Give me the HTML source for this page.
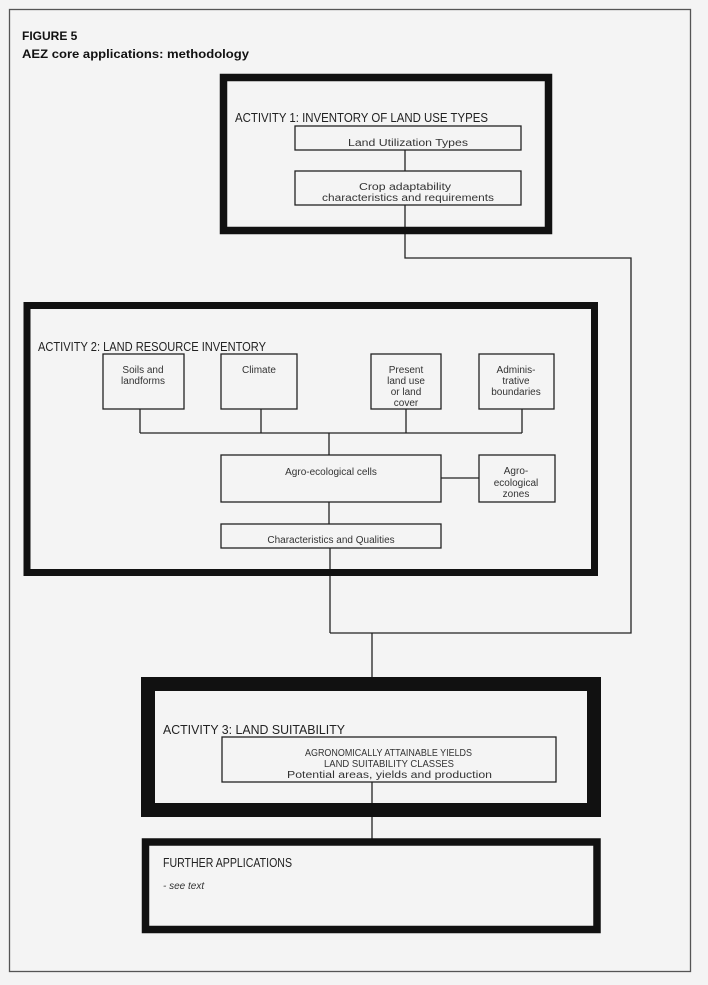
<!DOCTYPE html>
<html><head><meta charset="utf-8"><style>
html,body{margin:0;padding:0;background:#f4f4f4;}
svg{display:block;}
text{font-family:"Liberation Sans Narrow","Liberation Sans",sans-serif;fill:#222;}
.t{font-size:12.5px;}
.s{font-size:10px;fill:#333;}
.h{font-family:"Liberation Sans",sans-serif;font-weight:bold;font-size:12px;fill:#111;}
</style></head><body>
<svg width="708" height="985" viewBox="0 0 708 985" xmlns="http://www.w3.org/2000/svg">
<rect x="0" y="0" width="708" height="985" fill="#f4f4f4"/>
<rect x="9.5" y="9.5" width="681" height="962" fill="none" stroke="#555" stroke-width="1.3"/>
<text class="h" x="22" y="40">FIGURE 5</text>
<text class="h" x="22" y="58" textLength="227" lengthAdjust="spacingAndGlyphs">AEZ core applications: methodology</text>

<g fill="none" stroke="#222" stroke-width="1.3">
<!-- connectors -->
<line x1="405" y1="150" x2="405" y2="171"/>
<polyline points="405,205 405,258 631,258 631,633 330,633"/>
<line x1="330" y1="548" x2="330" y2="633"/>
<line x1="372" y1="633" x2="372" y2="680"/>
<line x1="140" y1="409" x2="140" y2="433"/>
<line x1="261" y1="409" x2="261" y2="433"/>
<line x1="406" y1="409" x2="406" y2="433"/>
<line x1="522" y1="409" x2="522" y2="433"/>
<line x1="140" y1="433" x2="522" y2="433"/>
<line x1="329" y1="433" x2="329" y2="455"/>
<line x1="441" y1="478" x2="479" y2="478"/>
<line x1="329" y1="502" x2="329" y2="524"/>
<line x1="372" y1="782" x2="372" y2="840"/>
</g>

<!-- Activity 1 -->
<rect x="223.5" y="77.5" width="325" height="153" fill="none" stroke="#111" stroke-width="7.5"/>
<text class="t" x="235" y="122" textLength="253" lengthAdjust="spacingAndGlyphs">ACTIVITY 1: INVENTORY OF LAND USE TYPES</text>
<rect x="295" y="126" width="226" height="24" fill="none" stroke="#222" stroke-width="1.3"/>
<text class="s" x="348" y="146" textLength="120" lengthAdjust="spacingAndGlyphs">Land Utilization Types</text>
<rect x="295" y="171" width="226" height="34" fill="none" stroke="#222" stroke-width="1.3"/>
<text class="s" x="359" y="190" textLength="92" lengthAdjust="spacingAndGlyphs">Crop adaptability</text>
<text class="s" x="322" y="201" textLength="172" lengthAdjust="spacingAndGlyphs">characteristics and requirements</text>

<!-- Activity 2 -->
<rect x="27" y="305.5" width="567.5" height="267" fill="none" stroke="#111" stroke-width="7"/>
<text class="t" x="38" y="351" textLength="228" lengthAdjust="spacingAndGlyphs">ACTIVITY 2: LAND RESOURCE INVENTORY</text>
<g fill="none" stroke="#222" stroke-width="1.3">
<rect x="103" y="354" width="81" height="55"/>
<rect x="221" y="354" width="76" height="55"/>
<rect x="371" y="354" width="70" height="55"/>
<rect x="479" y="354" width="75" height="55"/>
<rect x="221" y="455" width="220" height="47"/>
<rect x="479" y="455" width="76" height="47"/>
<rect x="221" y="524" width="220" height="24"/>
</g>
<g class="s" text-anchor="middle">
<text class="s" x="143" y="373">Soils and</text>
<text class="s" x="143" y="384">landforms</text>
<text class="s" x="259" y="373">Climate</text>
<text class="s" x="406" y="373">Present</text>
<text class="s" x="406" y="384">land use</text>
<text class="s" x="406" y="395">or land</text>
<text class="s" x="406" y="406">cover</text>
<text class="s" x="516" y="373">Adminis-</text>
<text class="s" x="516" y="384">trative</text>
<text class="s" x="516" y="395">boundaries</text>
<text class="s" x="331" y="475">Agro-ecological cells</text>
<text class="s" x="516" y="474">Agro-</text>
<text class="s" x="516" y="486">ecological</text>
<text class="s" x="516" y="497">zones</text>
<text class="s" x="331" y="543">Characteristics and Qualities</text>
</g>

<!-- Activity 3 -->
<rect x="148" y="684" width="446" height="126" fill="none" stroke="#111" stroke-width="14"/>
<text class="t" x="163" y="734" textLength="182" lengthAdjust="spacingAndGlyphs">ACTIVITY 3: LAND SUITABILITY</text>
<rect x="222" y="737" width="334" height="45" fill="none" stroke="#222" stroke-width="1.3"/>
<text class="s" x="305" y="756" textLength="167" lengthAdjust="spacingAndGlyphs">AGRONOMICALLY ATTAINABLE YIELDS</text>
<text class="s" x="324" y="767" textLength="130" lengthAdjust="spacingAndGlyphs">LAND SUITABILITY CLASSES</text>
<text class="s" x="287" y="778" textLength="205" lengthAdjust="spacingAndGlyphs">Potential areas, yields and production</text>

<!-- Further -->
<rect x="145.5" y="842" width="451.5" height="87.5" fill="none" stroke="#111" stroke-width="7.5"/>
<text class="t" x="163" y="867" textLength="129" lengthAdjust="spacingAndGlyphs">FURTHER APPLICATIONS</text>
<text class="s" x="163" y="889" font-style="italic">- see text</text>
</svg>
</body></html>
